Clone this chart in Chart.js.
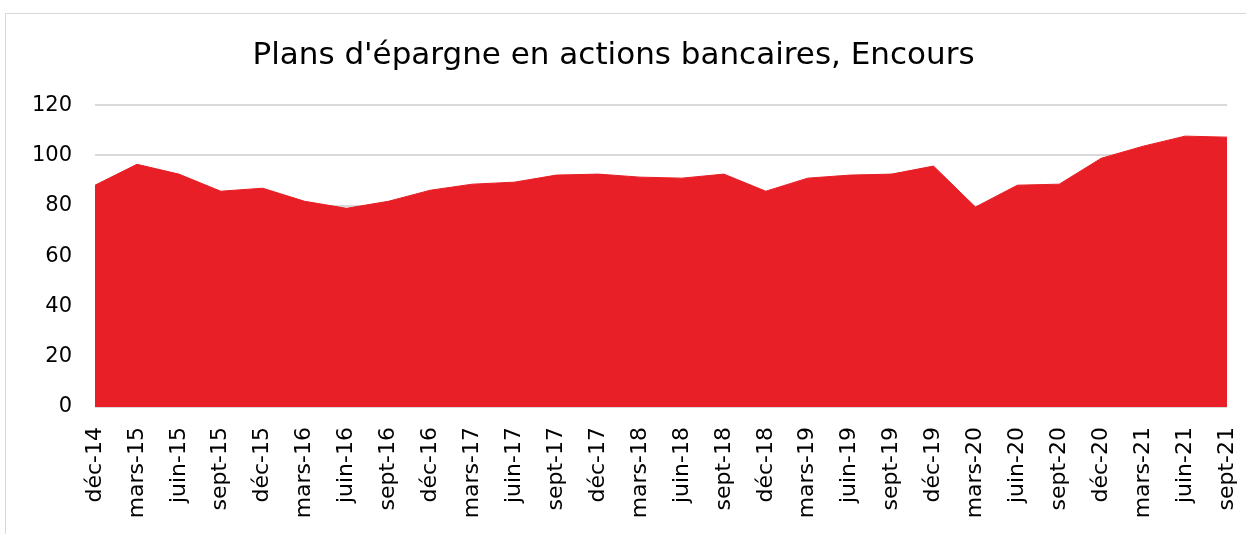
<!DOCTYPE html>
<html>
<head>
<meta charset="utf-8">
<script src="https://cdn.jsdelivr.net/npm/chart.js@4/dist/chart.umd.min.js"></script>
<style>
  body { margin: 0; background: #fff; }
  #cadre { position: absolute; left: 5px; top: 13px; width: 1300px; height: 600px; border: 1px solid #d9d9d9; }
  #wrap { position: absolute; left: 0; top: 0; width: 1246px; height: 534px; }
</style>
</head>
<body>
<div id="cadre"></div>
<div id="wrap"><canvas id="graphique" width="1246" height="534"></canvas></div>
<script>
// --- DONNEES ---
const titre = "Plans d'épargne en actions bancaires, Encours";

const trimestres = [
    'déc-14', 'mars-15', 'juin-15', 'sept-15', 'déc-15', 'mars-16', 'juin-16', 'sept-16',
    'déc-16', 'mars-17', 'juin-17', 'sept-17', 'déc-17', 'mars-18', 'juin-18', 'sept-18',
    'déc-18', 'mars-19', 'juin-19', 'sept-19', 'déc-19', 'mars-20', 'juin-20', 'sept-20',
    'déc-20', 'mars-21', 'juin-21', 'sept-21'
];

// Encours
const encours = [
    88.2, 96.5, 92.6, 85.8, 87.0, 81.8, 79.0, 81.8,
    86.2, 88.6, 89.4, 92.2, 92.6, 91.4, 91.0, 92.6,
    85.8, 91.0, 92.2, 92.6, 95.8, 79.5, 88.2, 88.6,
    98.9, 103.7, 107.7, 107.3
];

const graduationsY = [0, 20, 40, 60, 80, 100, 120];

// --- GRAPHIQUE ---
const police = "'DejaVu Sans', sans-serif";
const ctx = document.getElementById('graphique').getContext('2d');

new Chart(ctx, {
    type: 'line',
    data: {
        labels: trimestres,
        datasets: [{
            data: encours,
            fill: 'origin',
            backgroundColor: '#e81f26',
            borderColor: '#e81f26',
            borderWidth: 1,
            pointRadius: 0,
            tension: 0
        }]
    },
    options: {
        responsive: false,
        animation: false,
        layout: { padding: { left: 0, right: 19, top: 0, bottom: 0 } },
        plugins: {
            legend: { display: false },
            tooltip: { enabled: false },
            title: {
                display: true,
                text: titre,
                color: '#000',
                font: { family: police, size: 31, weight: 'normal' },
                padding: { top: 37, bottom: 31 }
            }
        },
        scales: {
            x: {
                offset: false,
                grid: { display: false },
                border: { display: false },
                afterFit: (axe) => {
                    axe.height = 127;
                    // pas de marge supplémentaire pour la dernière étiquette
                    axe.paddingLeft = 0;
                    axe.paddingRight = 0;
                },
                ticks: {
                    color: '#000',
                    font: { family: police, size: 22 },
                    maxRotation: 90,
                    minRotation: 90,
                    autoSkip: false,
                    padding: 12
                }
            },
            y: {
                min: 0,
                max: 120,
                afterBuildTicks: (axe) => { axe.ticks = graduationsY.map(v => ({ value: v })); },
                afterFit: (axe) => { axe.width = 95; },
                grid: { color: '#d9d9d9', lineWidth: 2, drawTicks: false },
                border: { display: false },
                ticks: {
                    color: '#000',
                    font: { family: police, size: 21 },
                    padding: 23
                }
            }
        }
    }
});
</script>
</body>
</html>
